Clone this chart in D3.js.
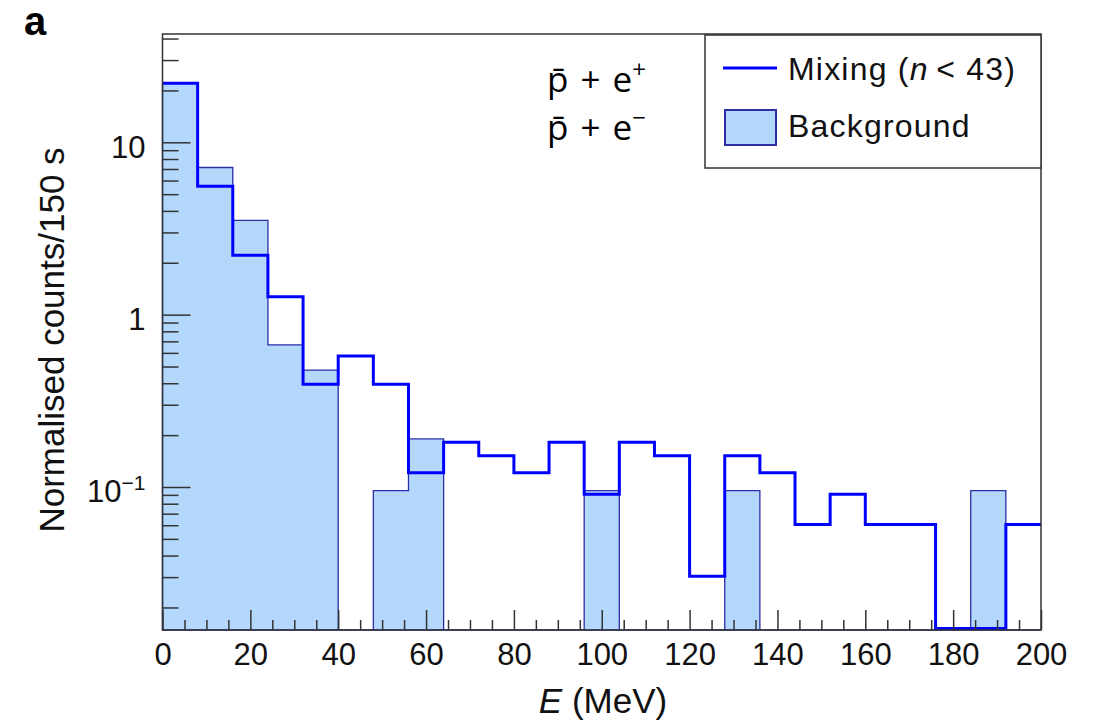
<!DOCTYPE html>
<html>
<head>
<meta charset="utf-8">
<script src="https://cdn.jsdelivr.net/npm/d3@7"></script>
<style>
  body { margin: 0; background: #fff; }
  svg { display: block; font-family: "Liberation Sans", Arial, sans-serif; }
</style>
</head>
<body>
<svg id="chart" width="1096" height="721"></svg>
<script>
// energy bins (MeV), 8 MeV wide
const binLow = [0, 8, 16, 24, 32, 40, 48, 56, 64, 72, 80, 88, 96, 104, 112, 120, 128, 136, 144, 152, 160, 168, 176, 184, 192];
const binWidth = 8;

// normalised counts / 150 s
const mixing = [22.0, 5.55, 2.21, 1.27, 0.394, 0.576, 0.394, 0.121, 0.182, 0.152, 0.121, 0.182, 0.0909, 0.182, 0.152, 0.0303, 0.152, 0.121, 0.0606, 0.0909, 0.0606, 0.0606, 0, 0, 0.0606];
const background = [22.0, 7.14, 3.52, 0.667, 0.476, 0, 0.0952, 0.190, 0, 0, 0, 0, 0.0952, 0, 0, 0, 0.0952, 0, 0, 0, 0, 0, 0, 0.0952, 0];

const xTicks = [0, 20, 40, 60, 80, 100, 120, 140, 160, 180, 200];
const xMinor = [5, 10, 15, 25, 30, 35, 45, 50, 55, 65, 70, 75, 85, 90, 95, 105, 110, 115, 125, 130, 135, 145, 150, 155, 165, 170, 175, 185, 190, 195];
const yTicks = [0.1, 1, 10];
const yMinor = [0.02, 0.03, 0.04, 0.05, 0.06, 0.07, 0.08, 0.09, 0.2, 0.3, 0.4, 0.5, 0.6, 0.7, 0.8, 0.9, 2, 3, 4, 5, 6, 7, 8, 9, 20, 30, 40];

const plotLeft = 162.5, plotRight = 1041, plotTop = 34, plotBottom = 630;
const fillBlue = '#b3d8fc';
const edgeBlue = '#2d2da6';
const lineBlue = '#0000ff';
const axisGray = '#333';

const svg = d3.select('#chart');

const x = d3.scaleLinear().domain([0, 200]).range([plotLeft, plotRight]);
const y = d3.scaleLog().domain([0.0148, 42.5]).range([plotBottom, plotTop]);
const yMin = y.domain()[0];

function steps(values) {
  const pts = binLow.map((lo, i) => ({ x: lo, v: values[i] }));
  pts.push({ x: binLow[binLow.length - 1] + binWidth, v: values[values.length - 1] });
  return pts;
}

// background histogram
const area = d3.area()
  .curve(d3.curveStepAfter)
  .x(d => x(d.x))
  .y0(plotBottom)
  .y1(d => d.v > 0 ? y(d.v) : plotBottom);

svg.append('path')
  .datum(steps(background))
  .attr('d', area)
  .attr('fill', fillBlue)
  .attr('stroke', edgeBlue)
  .attr('stroke-width', 1.3);

// mixing histogram
const line = d3.line()
  .curve(d3.curveStepAfter)
  .x(d => x(d.x))
  .y(d => y(Math.max(d.v, yMin)) - (d.v > 0 ? 0 : 1.5));

svg.append('path')
  .datum(steps(mixing))
  .attr('d', line)
  .attr('fill', 'none')
  .attr('stroke', lineBlue)
  .attr('stroke-width', 3);

// frame
svg.append('rect')
  .attr('x', plotLeft).attr('y', plotTop)
  .attr('width', plotRight - plotLeft).attr('height', plotBottom - plotTop)
  .attr('fill', 'none')
  .attr('stroke', axisGray)
  .attr('stroke-width', 1.5);

// x axis, ticks pointing inwards
svg.append('g')
  .attr('transform', `translate(0,${plotBottom})`)
  .call(d3.axisBottom(x).tickValues(xTicks).tickSize(-20).tickPadding(13).tickFormat(d3.format('d')));
svg.append('g')
  .attr('transform', `translate(0,${plotBottom})`)
  .call(d3.axisBottom(x).tickValues(xMinor).tickSize(-10).tickFormat(''));

// y axis, ticks pointing inwards
const yAxis = svg.append('g')
  .attr('transform', `translate(${plotLeft},0)`)
  .call(d3.axisLeft(y).tickValues(yTicks).tickSize(-28).tickPadding(17).tickFormat(d => d === 0.1 ? '' : String(d)));
svg.append('g')
  .attr('transform', `translate(${plotLeft},0)`)
  .call(d3.axisLeft(y).tickValues(yMinor).tickSize(-16).tickFormat(''));

svg.selectAll('.domain').remove();
svg.selectAll('.tick line').attr('stroke', axisGray).attr('stroke-width', 1.5);
svg.selectAll('.tick text')
  .attr('font-family', '"Liberation Sans", Arial, sans-serif')
  .attr('font-size', 31)
  .attr('fill', '#111');
yAxis.selectAll('.tick text').attr('dy', '0.48em');

// 10^-1 label
yAxis.selectAll('.tick text')
  .filter(d => d === 0.1)
  .each(function () {
    const t = d3.select(this);
    t.append('tspan').text('10');
    t.append('tspan').attr('font-size', 21).attr('dy', -12).text('\u22121');
  });

// axis titles
const xt = svg.append('text')
  .attr('x', 603).attr('y', 713)
  .attr('text-anchor', 'middle')
  .attr('font-size', 35)
  .attr('fill', '#111');
xt.append('tspan').attr('font-style', 'italic').text('E');
xt.append('tspan').text(' (MeV)');

svg.append('text')
  .attr('transform', 'translate(64,340) rotate(-90)')
  .attr('text-anchor', 'middle')
  .attr('font-size', 35)
  .attr('fill', '#111')
  .text('Normalised counts/150 s');

// panel letter
svg.append('text')
  .attr('x', 24).attr('y', 35)
  .attr('font-size', 40)
  .attr('font-weight', 'bold')
  .attr('fill', '#000')
  .text('a');

// reaction labels
const reactions = [{ sign: '+', yPos: 92 }, { sign: '\u2212', yPos: 140 }];
reactions.forEach(r => {
  const t = svg.append('text')
    .attr('x', 547).attr('y', r.yPos)
    .attr('font-family', '"Open Sans", "Noto Sans", sans-serif')
    .attr('font-size', 35)
    .attr('word-spacing', 3)
    .attr('fill', '#000');
  t.append('tspan').text('p\u0304 + e');
  t.append('tspan').attr('font-size', 24).attr('dy', -14).text(r.sign);
});

// legend
const legend = svg.append('g');
legend.append('rect')
  .attr('x', 705).attr('y', 35)
  .attr('width', plotRight - 705).attr('height', 133)
  .attr('fill', '#fff')
  .attr('stroke', axisGray)
  .attr('stroke-width', 1.5);
legend.append('line')
  .attr('x1', 723).attr('x2', 777)
  .attr('y1', 68).attr('y2', 68)
  .attr('stroke', lineBlue)
  .attr('stroke-width', 3);
const mixLabel = legend.append('text')
  .attr('x', 788).attr('y', 80)
  .attr('font-size', 32)
  .attr('letter-spacing', 1.2)
  .attr('fill', '#111');
mixLabel.append('tspan').text('Mixing (');
mixLabel.append('tspan').attr('font-style', 'italic').text('n');
mixLabel.append('tspan').text('\u2009< 43)');
legend.append('rect')
  .attr('x', 725).attr('y', 110)
  .attr('width', 51).attr('height', 35)
  .attr('fill', fillBlue)
  .attr('stroke', edgeBlue)
  .attr('stroke-width', 2);
legend.append('text')
  .attr('x', 788).attr('y', 137)
  .attr('font-size', 32)
  .attr('letter-spacing', 1.2)
  .attr('fill', '#111')
  .text('Background');
</script>
</body>
</html>
